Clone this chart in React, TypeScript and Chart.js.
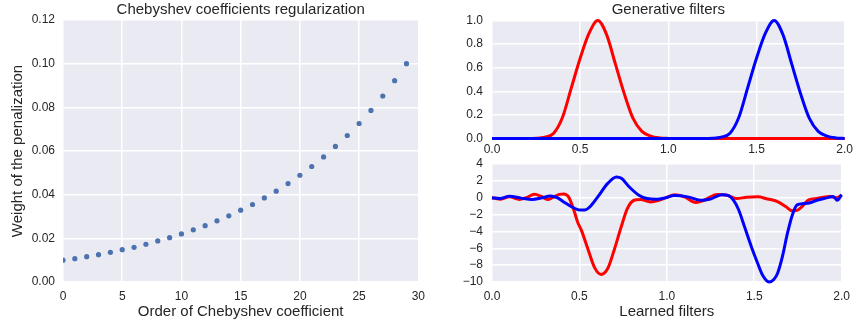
import React, { useEffect, useRef } from "react";
import { Chart, registerables } from "chart.js";

Chart.register(...registerables);

// ---------- data ----------
const coeffOrder = [0, 1, 2, 3, 4, 5, 6, 7, 8, 9, 10, 11, 12, 13, 14, 15, 16, 17, 18, 19, 20, 21, 22, 23, 24, 25, 26, 27, 28, 29];
const penaltyWeight = [
  0.0100, 0.0107, 0.0116, 0.0125, 0.0136, 0.0148, 0.0159, 0.0173, 0.0188, 0.0203,
  0.0220, 0.0239, 0.0258, 0.0280, 0.0303, 0.0329, 0.0355, 0.0385, 0.0416, 0.0451,
  0.0489, 0.0529, 0.0573, 0.0621, 0.0671, 0.0726, 0.0786, 0.0852, 0.0922, 0.1000,
];

const leftXTicks = ["0", "5", "10", "15", "20", "25", "30"];
const leftYTicks = ["0.00", "0.02", "0.04", "0.06", "0.08", "0.10", "0.12"];
const filterXTicks = ["0.0", "0.5", "1.0", "1.5", "2.0"];
const genYTicks = ["0.0", "0.2", "0.4", "0.6", "0.8", "1.0"];
const learnedYTicks = ["\u221210", "\u22128", "\u22126", "\u22124", "\u22122", "0", "2", "4"];

const genX = [
  0, 0.05, 0.1, 0.15, 0.2, 0.25, 0.3, 0.35, 0.4, 0.45, 0.5, 0.55, 0.6, 0.65, 0.7, 0.75, 0.8, 0.85, 0.9, 0.95,
  1.0, 1.05, 1.1, 1.15, 1.2, 1.25, 1.3, 1.35, 1.4, 1.45, 1.5, 1.55, 1.6, 1.65, 1.7, 1.75, 1.8, 1.85, 1.9, 1.95, 2.0,
];
const genRed = [
  0, 0, 0, 0, 0, 0.002, 0.012, 0.045, 0.18, 0.43, 0.68, 0.89, 1.0, 0.88, 0.63, 0.38, 0.17, 0.06, 0.02, 0.005,
  0.001, 0, 0, 0, 0, 0, 0, 0, 0, 0, 0, 0, 0, 0, 0, 0, 0, 0, 0, 0, 0,
];
const genBlue = [
  0, 0, 0, 0, 0, 0, 0, 0, 0, 0, 0, 0, 0, 0, 0, 0, 0, 0, 0, 0,
  0, 0, 0, 0, 0, 0.002, 0.012, 0.045, 0.18, 0.43, 0.68, 0.89, 1.0, 0.88, 0.63, 0.38, 0.17, 0.06, 0.02, 0.005, 0.001,
];

const learnedRedX = [
  0, 0.05, 0.1, 0.157, 0.195, 0.243, 0.28, 0.318, 0.345, 0.385, 0.41, 0.438, 0.467, 0.49, 0.512, 0.549, 0.587,
  0.624, 0.662, 0.699, 0.737, 0.774, 0.812, 0.849, 0.906, 0.962, 1.0, 1.044, 1.1, 1.166, 1.213, 1.288, 1.344,
  1.4, 1.456, 1.52, 1.576, 1.633, 1.68, 1.717, 1.745, 1.773, 1.811, 1.858, 1.933, 1.97, 2.0,
];
const learnedRed = [
  0, -0.18, 0.12, -0.2, 0, 0.4, 0.18, -0.2, 0, 0.4, 0.45, 0.1, -1.4, -2.9, -3.9, -6.1, -8.3,
  -9.1, -8.4, -6.2, -3.6, -1.3, -0.3, -0.2, -0.5, -0.25, 0.05, 0.35, 0.1, -0.56, -0.3, 0.38, 0.3,
  -0.1, 0.05, 0.1, -0.15, -0.45, -1.05, -1.55, -1.5, -1.05, -0.25, -0.1, 0.15, 0, 0.3,
];
const learnedBlueX = [
  0, 0.045, 0.1, 0.167, 0.232, 0.279, 0.335, 0.373, 0.41, 0.457, 0.5, 0.53, 0.559, 0.605, 0.662, 0.712, 0.74,
  0.784, 0.84, 0.887, 0.943, 0.99, 1.044, 1.119, 1.194, 1.25, 1.316, 1.353, 1.381, 1.41, 1.447, 1.485, 1.52,
  1.548, 1.585, 1.612, 1.633, 1.661, 1.689, 1.717, 1.745, 1.783, 1.82, 1.858, 1.914, 1.952, 1.975, 2.0,
];
const learnedBlue = [
  0, -0.1, 0.18, -0.05, -0.2, -0.05, 0.2, 0, -0.5, -1.1, -1.45, -1.45, -1.1, 0.1, 1.7, 2.45, 2.3,
  1.3, 0.3, -0.1, -0.17, -0.02, 0.25, 0.1, -0.3, -0.15, 0.35, 0.25, -0.3, -1.4, -3.6, -5.9, -7.8,
  -9.2, -10, -9.7, -9.0, -7.0, -4.3, -2.1, -0.85, -0.7, -0.6, -0.3, -0.02, 0.15, -0.3, 0.35,
];

// ---------- styling ----------
const TEXT = "#262626";
const BG = "#EAEAF2";
const FONT = "'Liberation Sans', Arial, sans-serif";

Chart.defaults.font.family = FONT;
Chart.defaults.color = TEXT;

const bgPlugin = {
  id: "axesBg",
  beforeDraw(chart: any) {
    const { ctx, chartArea } = chart;
    if (!chartArea) return;
    ctx.save();
    ctx.fillStyle = BG;
    ctx.fillRect(chartArea.left, chartArea.top, chartArea.right - chartArea.left, chartArea.bottom - chartArea.top);
    ctx.restore();
  },
};

function axis(
  min: number,
  max: number,
  step: number,
  labels: string[],
  opts: { width?: number; height?: number; pad: number; title?: string; titlePad?: any }
) {
  return {
    type: "linear",
    min,
    max,
    ticks: {
      stepSize: step,
      padding: opts.pad,
      maxRotation: 0,
      autoSkip: false,
      color: TEXT,
      font: { size: 12, family: FONT },
      callback: (v: number) => labels[Math.round((v - min) / step)],
    },
    grid: { color: "#FFFFFF", lineWidth: 1.5, drawTicks: false },
    border: { display: false },
    title: opts.title
      ? { display: true, text: opts.title, color: TEXT, font: { size: 15, family: FONT, lineHeight: 1.2 }, padding: opts.titlePad }
      : { display: false },
    afterFit: (scale: any) => {
      if (opts.width !== undefined) {
        scale.width = opts.width;
        scale.paddingTop = 0;
        scale.paddingBottom = 0;
      }
      if (opts.height !== undefined) scale.height = opts.height;
    },
  };
}

function titleOpt(text: string, pad: any) {
  if (!text) return { display: false };
  return {
    display: true,
    text,
    color: TEXT,
    fullSize: false,
    font: { size: 15, family: FONT, weight: "normal", lineHeight: 1.2 },
    padding: pad,
  };
}

function leftConfig(): any {
  return {
    type: "scatter",
    data: {
      datasets: [
        {
          data: coeffOrder.map((x, i) => ({ x, y: penaltyWeight[i] })),
          backgroundColor: "#4C72B0",
          borderWidth: 0,
          pointRadius: 2.6,
          clip: 0,
        },
      ],
    },
    options: {
      animation: false,
      responsive: false,
      layout: { padding: { left: 0, right: 13, top: 0, bottom: 0 } },
      plugins: {
        legend: { display: false },
        tooltip: { enabled: false },
        title: titleOpt("Chebyshev coefficients regularization", { top: 0.5, bottom: 1.5 }),
      },
      scales: {
        x: axis(0, 30, 5, leftXTicks, { height: 48, pad: 7, title: "Order of Chebyshev coefficient", titlePad: { top: 0, bottom: 9.6 } }),
        y: axis(0, 0.12, 0.02, leftYTicks, { width: 63, pad: 8, title: "Weight of the penalization", titlePad: { top: 9, bottom: 0 } }),
      },
    },
    plugins: [bgPlugin],
  };
}

function lineDs(xs: number[], ys: number[], color: string, order: number) {
  return {
    data: xs.map((x, i) => ({ x, y: ys[i] })),
    borderColor: color,
    backgroundColor: color,
    borderWidth: 3,
    pointRadius: 0,
    cubicInterpolationMode: "monotone",
    clip: false,
    order,
  };
}

function genConfig(): any {
  return {
    type: "line",
    data: {
      datasets: [lineDs(genX, genRed, "#FF0000", 1), lineDs(genX, genBlue, "#0000FF", 0)],
    },
    options: {
      animation: false,
      responsive: false,
      layout: { padding: { left: 0, right: 10, top: 0, bottom: 0 } },
      plugins: {
        legend: { display: false },
        tooltip: { enabled: false },
        title: titleOpt("Generative filters", { top: 0.5, bottom: 2 }),
      },
      scales: {
        x: axis(0, 2, 0.5, filterXTicks, { height: 16.5, pad: 4 }),
        y: axis(0, 1, 0.2, genYTicks, { width: 52, pad: 9 }),
      },
    },
    plugins: [bgPlugin],
  };
}

function learnedConfig(): any {
  return {
    type: "line",
    data: {
      datasets: [
        lineDs(learnedRedX, learnedRed, "#FF0000", 1),
        lineDs(learnedBlueX, learnedBlue, "#0000FF", 0),
      ],
    },
    options: {
      animation: false,
      responsive: false,
      layout: { padding: { left: 0, right: 10, top: 8, bottom: 0 } },
      plugins: {
        legend: { display: false },
        tooltip: { enabled: false },
        title: { display: false },
      },
      scales: {
        x: axis(0, 2, 0.5, filterXTicks, { height: 48, pad: 7, title: "Learned filters", titlePad: { top: 0, bottom: 9.6 } }),
        y: axis(-10, 4, 2, learnedYTicks, { width: 52, pad: 9 }),
      },
    },
    plugins: [bgPlugin],
  };
}

function Panel(props: { make: () => any; left: number; top: number; width: number; height: number }) {
  const ref = useRef<HTMLCanvasElement | null>(null);
  useEffect(() => {
    if (!ref.current) return;
    const chart = new Chart(ref.current, props.make());
    return () => chart.destroy();
  }, []);
  return (
    <canvas
      ref={ref}
      width={props.width}
      height={props.height}
      style={{
        position: "absolute",
        left: props.left,
        top: props.top,
        width: props.width,
        height: props.height,
      }}
    />
  );
}

export default function App() {
  return (
    <div style={{ position: "fixed", left: 0, top: 0, width: 857, height: 330, background: "#FFFFFF", overflow: "hidden" }}>
      <Panel make={leftConfig} left={0} top={0} width={432} height={330} />
      <Panel make={genConfig} left={440} top={0} width={417} height={155} />
      <Panel make={learnedConfig} left={440} top={156} width={417} height={174} />
    </div>
  );
}
